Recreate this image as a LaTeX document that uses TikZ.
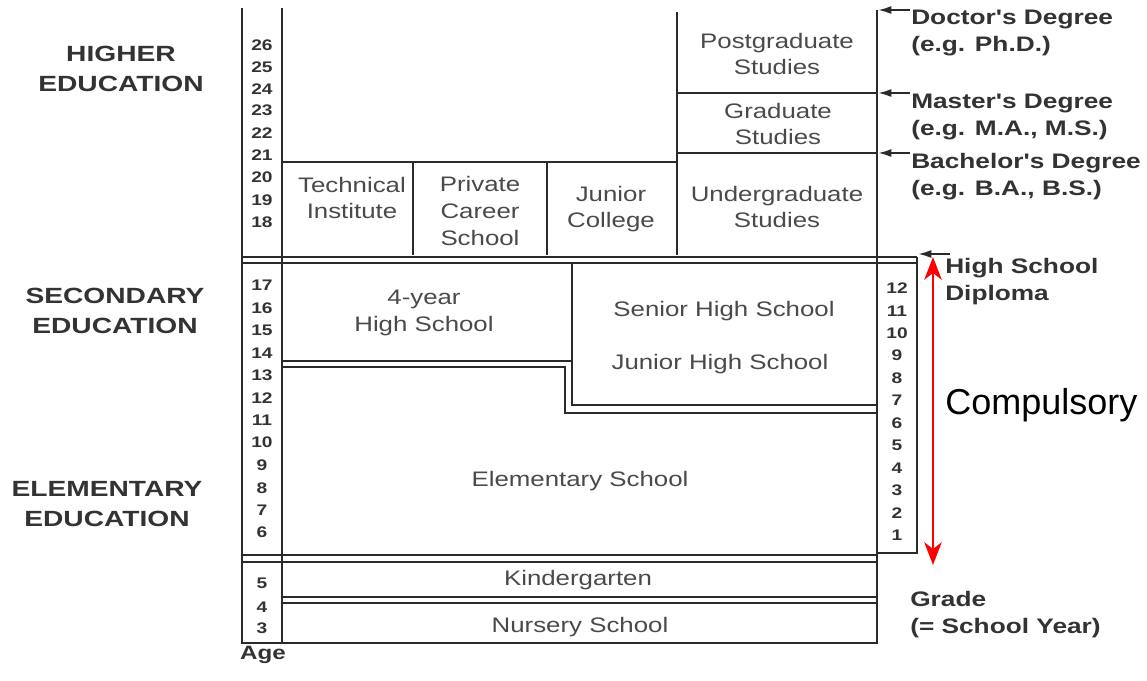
\documentclass[tikz,border=0pt]{standalone}
\usepackage{fontspec}
\setmainfont{Liberation Sans}
\newfontfamily\boxfont[FakeStretch=1.23]{Liberation Sans}
\newfontfamily\labfont[FakeStretch=1.28]{Liberation Sans}
\newfontfamily\degfont[FakeStretch=1.25]{Liberation Sans}
\usetikzlibrary{arrows.meta}
\definecolor{ink}{HTML}{2A2A2A}
\definecolor{txt}{HTML}{4A4A4A}
\definecolor{lab}{HTML}{333333}
\begin{document}
\begin{tikzpicture}[x=0.75pt,y=-0.75pt,
  wall/.style={draw=ink,line width=2.2pt},
  thin/.style={draw=ink,line width=1.7pt},
  boxtext/.style={inner sep=0pt,align=center,text=txt,font=\boxfont\fontsize{15.75pt}{20pt}\selectfont},
  sidelab/.style={inner sep=0pt,align=center,text=lab,font=\labfont\bfseries\fontsize{16.5pt}{23pt}\selectfont},
  deglab/.style={inner sep=0pt,anchor=west,align=left,text=lab,font=\degfont\bfseries\fontsize{15.75pt}{20.25pt}\selectfont},
  agenum/.style={inner sep=0pt,text=lab,font=\degfont\bfseries\fontsize{11.5pt}{13pt}\selectfont},
  degarrow/.style={draw=ink,line width=1.6pt,-{Latex[length=10pt,width=6pt]}},
  redarrow/.style={draw=red,line width=2.2pt,{Stealth[length=17pt,width=13pt,inset=5pt]}-{Stealth[length=17pt,width=13pt,inset=5pt]}}
]
\useasboundingbox (0,0) rectangle (1147,681);
\fill[white] (0,0) rectangle (1147,681);

% main frame
\draw[wall] (242,8) -- (242,643) -- (877,643) -- (877,10);
\draw[wall] (282,8) -- (282,643);

% higher education
\draw[thin] (677,12) -- (677,255);
\draw[thin] (677,93) -- (877,93);
\draw[thin] (677,153) -- (877,153);
\draw[thin] (282,162) -- (677,162);
\draw[thin] (413,162) -- (413,255);
\draw[thin] (547,162) -- (547,255);

% double line between higher and secondary
\draw[thin] (242,257) -- (917,257);
\draw[thin] (242,263) -- (917,263);
% grade box
\draw[thin] (917,257) -- (917,553) -- (877,553);

% secondary
\draw[thin] (572,263) -- (572,405) -- (877,405);
\draw[thin] (282,361) -- (572,361);
\draw[thin] (282,367) -- (565,367) -- (565,413) -- (877,413);

% elementary / kindergarten double lines
\draw[thin] (242,555) -- (877,555);
\draw[thin] (242,562) -- (877,562);
\draw[thin] (282,597) -- (877,597);
\draw[thin] (282,603) -- (877,603);

% degree arrows
\coordinate (dA) at (910,10);  \coordinate (dB) at (878,10);
\coordinate (mA) at (910,93);  \coordinate (mB) at (878,93);
\coordinate (bA) at (910,153); \coordinate (bB) at (878,153);
\coordinate (hA) at (950,254); \coordinate (hB) at (918,254);
\draw[degarrow] (dA) -- (dB);
\draw[degarrow] (mA) -- (mB);
\draw[degarrow] (bA) -- (bB);
\draw[degarrow] (hA) -- (hB);

% red compulsory arrow
\coordinate (cT) at (933,257);
\coordinate (cB) at (933,565);
\draw[redarrow] (cT) -- (cB);

% box texts
\node[boxtext] (pg) at (777,54) {Postgraduate\\Studies};
\node[boxtext] (gs) at (778,124) {Graduate\\Studies};
\node[boxtext] (ug) at (777,207) {Undergraduate\\Studies};
\node[boxtext] (ti) at (352,198) {Technical\\Institute};
\node[boxtext] (pc) at (480,211) {Private\\Career\\School};
\node[boxtext] (jc) at (611,209) {Junior\\College};
\node[boxtext] (fy) at (424,313) {4-year\\High School};
\node[boxtext] (sh) at (724,311) {Senior High School};
\node[boxtext] (jh) at (720,364) {Junior High School};
\node[boxtext] (es) at (580,481) {Elementary School};
\node[boxtext] (kg) at (578,580) {Kindergarten};
\node[boxtext] (ns) at (580,627) {Nursery School};

% side labels
\node[sidelab] (he) at (121,69) {HIGHER\\EDUCATION};
\node[sidelab] (se) at (115,311) {SECONDARY\\EDUCATION};
\node[sidelab] (ee) at (107,504) {ELEMENTARY\\EDUCATION};
\node[sidelab,font=\degfont\bfseries\fontsize{14.5pt}{16pt}\selectfont] (age) at (263,655) {Age};

% right labels
\node[deglab] (doc) at (911,33) {Doctor's Degree\\(e.g. Ph.D.)};
\node[deglab] (mas) at (911,117) {Master's Degree\\(e.g. M.A., M.S.)};
\node[deglab] (bac) at (911,177) {Bachelor's Degree\\(e.g. B.A., B.S.)};
\node[deglab] (hsd) at (945,282) {High School\\Diploma};
\node[deglab] (grd) at (910,615) {Grade\\(= School Year)};
\node[inner sep=0pt,anchor=west,font=\fontsize{27pt}{30pt}\selectfont] (comp) at (945,405) {Compulsory};

% age numbers
\foreach \a/\y in {26/45,25/67,24/89,23/110,22/133,21/155,20/177,19/200,18/222,
                   17/285,16/308,15/330,14/353,13/375,12/398,11/420,10/442,
                   9/465,8/488,7/510,6/532,5/583,4/607,3/628}
  \node[agenum] (age\a) at (262,\y) {\a};

% grade numbers
\foreach \g/\y in {12/288,11/311,10/333,9/355,8/378,7/400,6/423,5/445,4/468,3/490,2/513,1/535}
  \node[agenum] (gr\g) at (897,\y) {\g};
\end{tikzpicture}
\end{document}
